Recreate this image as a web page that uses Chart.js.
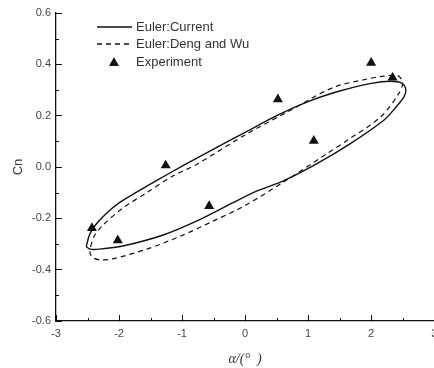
<!DOCTYPE html>
<html>
<head>
<meta charset="utf-8">
<script src="https://cdn.jsdelivr.net/npm/chart.js@4.4.0/dist/chart.umd.min.js"></script>
<style>
  html, body { margin: 0; padding: 0; background: #fff; overflow: hidden; }
  #wrap { width: 440px; height: 368px; }
</style>
</head>
<body>
<div id="wrap"><canvas id="chart"></canvas></div>
<script>
// Euler: current method (closed loop, upper branch then lower branch)
const currentAlpha = [-2.52, -2.47, -2.38, -2.22, -2.0, -1.7, -1.4, -1.0, -0.5, 0, 0.5, 1.0, 1.5, 2.0, 2.31, 2.49, 2.55,
  2.52, 2.4, 2.2, 1.67, 1.14, 0.6, 0.19, -0.2, -0.72, -1.3, -1.94, -2.31, -2.46, -2.52];
const currentCn = [-0.31, -0.265, -0.228, -0.185, -0.14, -0.095, -0.052, 0.003, 0.07, 0.135, 0.2, 0.255, 0.296, 0.326, 0.334, 0.326, 0.30,
  0.273, 0.235, 0.182, 0.091, 0.013, -0.055, -0.093, -0.14, -0.205, -0.265, -0.308, -0.32, -0.32, -0.31];

// Euler: Deng and Wu
const dengAlpha = [-2.45, -2.4, -2.27, -1.94, -1.56, -1.14, -0.77, 0, 0.72, 1.4, 1.94, 2.2, 2.42, 2.5,
  2.44, 2.15, 1.62, 1.3, 0.6, 0, -0.5, -1.03, -1.56, -2.1, -2.3, -2.41, -2.46, -2.45];
const dengCn = [-0.31, -0.272, -0.23, -0.16, -0.1, -0.034, 0.01, 0.125, 0.221, 0.31, 0.343, 0.354, 0.356, 0.33,
  0.287, 0.195, 0.104, 0.052, -0.06, -0.15, -0.21, -0.27, -0.32, -0.358, -0.362, -0.354, -0.336, -0.31];

// Experiment
const expAlpha = [-2.43, -2.02, -1.26, -0.57, 0.52, 1.09, 2.0, 2.34];
const expCn = [-0.238, -0.286, 0.006, -0.152, 0.264, 0.102, 0.406, 0.348];

const xTicks = [-3, -2, -1, 0, 1, 2, 3];
const yTicks = [-0.6, -0.4, -0.2, 0.0, 0.2, 0.4, 0.6];
const xMinor = [-2.5, -1.5, -0.5, 0.5, 1.5, 2.5];
const yMinor = [-0.5, -0.3, -0.1, 0.1, 0.3, 0.5];

const legendLabels = ['Euler:Current', 'Euler:Deng and Wu', 'Experiment'];

const FONT = '"Liberation Sans", Arial, sans-serif';
const INK = '#111';

function toPoints(xs, ys) {
  return xs.map((x, i) => ({ x: x, y: ys[i] }));
}

// Short inward minor ticks, as in the original plot
const minorTicks = {
  id: 'minorTicks',
  afterDraw(chart) {
    const ctx = chart.ctx;
    const xs = chart.scales.x;
    const ys = chart.scales.y;
    const area = chart.chartArea;
    ctx.save();
    ctx.strokeStyle = INK;
    ctx.lineWidth = 1;
    ctx.beginPath();
    xMinor.forEach(v => {
      const px = Math.round(xs.getPixelForValue(v)) + 0.5;
      ctx.moveTo(px, area.bottom);
      ctx.lineTo(px, area.bottom - 3);
    });
    yMinor.forEach(v => {
      const py = Math.round(ys.getPixelForValue(v)) + 0.5;
      ctx.moveTo(area.left, py);
      ctx.lineTo(area.left + 3, py);
    });
    ctx.stroke();
    ctx.restore();
  }
};

// Legend drawn inside the plot, top left
const insideLegend = {
  id: 'insideLegend',
  afterDraw(chart) {
    const ctx = chart.ctx;
    const x0 = 97, x1 = 132, textX = 136;
    const rows = [27, 44, 62];
    ctx.save();
    ctx.strokeStyle = INK;
    ctx.lineWidth = 1.3;
    ctx.beginPath();
    ctx.moveTo(x0, rows[0]);
    ctx.lineTo(x1, rows[0]);
    ctx.stroke();
    ctx.setLineDash([5, 4]);
    ctx.beginPath();
    ctx.moveTo(x0, rows[1]);
    ctx.lineTo(x1, rows[1]);
    ctx.stroke();
    ctx.setLineDash([]);
    Chart.helpers.drawPoint(ctx, { pointStyle: 'triangle', radius: 5.5, rotation: 0, borderWidth: 0 }, 114, rows[2] + 1);
    ctx.fillStyle = INK;
    ctx.fill();
    ctx.fillStyle = '#333';
    ctx.font = '13px ' + FONT;
    ctx.textBaseline = 'middle';
    legendLabels.forEach((t, i) => ctx.fillText(t, textX, rows[i]));
    ctx.restore();
  }
};

const ctx = document.getElementById('chart');

new Chart(ctx, {
  type: 'scatter',
  data: {
    datasets: [
      {
        label: legendLabels[0],
        data: toPoints(currentAlpha, currentCn),
        showLine: true,
        borderColor: INK,
        borderWidth: 1.4,
        pointRadius: 0,
        tension: 0.3,
        fill: false
      },
      {
        label: legendLabels[1],
        data: toPoints(dengAlpha, dengCn),
        showLine: true,
        borderColor: INK,
        borderWidth: 1.2,
        borderDash: [5, 4],
        pointRadius: 0,
        tension: 0.3,
        fill: false
      },
      {
        label: legendLabels[2],
        data: toPoints(expAlpha, expCn),
        showLine: false,
        pointStyle: 'triangle',
        pointRadius: 5.8,
        pointBackgroundColor: INK,
        pointBorderColor: INK,
        pointBorderWidth: 0
      }
    ]
  },
  options: {
    responsive: true,
    maintainAspectRatio: false,
    animation: false,
    layout: { padding: { top: 13, right: 0, left: 0, bottom: 0 } },
    plugins: {
      legend: { display: false },
      tooltip: { enabled: false }
    },
    scales: {
      x: {
        type: 'linear',
        min: -3,
        max: 3,
        afterFit(scale) {
          scale.height = 47;
          scale.paddingLeft = 0;
          scale.paddingRight = 0;
        },
        afterBuildTicks(scale) {
          scale.ticks = xTicks.map(v => ({ value: v }));
        },
        border: { display: true, color: INK, width: 1.3 },
        grid: { drawOnChartArea: false, drawTicks: true, tickLength: -6, color: INK, tickColor: INK },
        ticks: {
          padding: 12,
          color: '#444',
          font: { family: FONT, size: 11 },
          maxRotation: 0,
          callback: v => String(v)
        },
        title: {
          display: true,
          text: 'α/(°  )',
          color: '#333',
          font: { family: '"Liberation Serif", "DejaVu Serif", serif', size: 14, style: 'italic' },
          padding: { top: 0, bottom: 0 }
        }
      },
      y: {
        type: 'linear',
        min: -0.6,
        max: 0.6,
        afterFit(scale) {
          scale.width = 56;
          scale.paddingTop = 0;
          scale.paddingBottom = 0;
        },
        afterBuildTicks(scale) {
          scale.ticks = yTicks.map(v => ({ value: v }));
        },
        border: { display: true, color: INK, width: 1.3 },
        grid: { drawOnChartArea: false, drawTicks: true, tickLength: -6, color: INK, tickColor: INK },
        ticks: {
          padding: 11,
          color: '#444',
          font: { family: FONT, size: 11 },
          callback: v => Number(v).toFixed(1)
        },
        title: {
          display: true,
          text: 'Cn',
          color: '#333',
          font: { family: FONT, size: 13 },
          padding: { top: 11, bottom: 0 }
        }
      }
    }
  },
  plugins: [minorTicks, insideLegend]
});
</script>
</body>
</html>
